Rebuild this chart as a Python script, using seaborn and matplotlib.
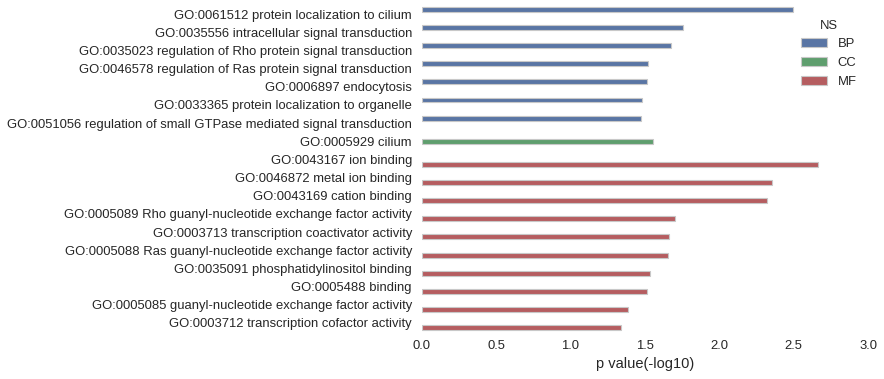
import pandas as pd
import seaborn as sns
import matplotlib.pyplot as plt

# GO terms, namespace and -log10 p values
terms = [
    'GO:0061512 protein localization to cilium',
    'GO:0035556 intracellular signal transduction',
    'GO:0035023 regulation of Rho protein signal transduction',
    'GO:0046578 regulation of Ras protein signal transduction',
    'GO:0006897 endocytosis',
    'GO:0033365 protein localization to organelle',
    'GO:0051056 regulation of small GTPase mediated signal transduction',
    'GO:0005929 cilium',
    'GO:0043167 ion binding',
    'GO:0046872 metal ion binding',
    'GO:0043169 cation binding',
    'GO:0005089 Rho guanyl-nucleotide exchange factor activity',
    'GO:0003713 transcription coactivator activity',
    'GO:0005088 Ras guanyl-nucleotide exchange factor activity',
    'GO:0035091 phosphatidylinositol binding',
    'GO:0005488 binding',
    'GO:0005085 guanyl-nucleotide exchange factor activity',
    'GO:0003712 transcription cofactor activity',
]
namespaces = ['BP'] * 7 + ['CC'] + ['MF'] * 10
pvals = [2.495, 1.755, 1.675, 1.52, 1.513, 1.48, 1.473,
         1.553,
         2.663, 2.354, 2.32, 1.70, 1.66, 1.654, 1.533, 1.513, 1.385, 1.338]

df = pd.DataFrame({'term': terms, 'NS': namespaces, 'p value(-log10)': pvals})

sns.set_theme(style="white")
plt.rcParams['font.family'] = ['Liberation Sans', 'DejaVu Sans']

fig, ax = plt.subplots(figsize=(8.84, 3.79), dpi=100)
sns.barplot(
    data=df, y='term', x='p value(-log10)', hue='NS',
    order=terms, hue_order=['BP', 'CC', 'MF'], dodge=True,
    palette=['#4C72B0', '#55A868', '#C44E52'],
    edgecolor='#c8c8c8', linewidth=0.8, ax=ax,
)
ax.set_xlim(0, 3)
ax.set_xticks([0, 0.5, 1.0, 1.5, 2.0, 2.5, 3.0])
ax.set_ylabel('')
ax.set_xlabel('p value(-log10)', fontsize=10.5, color='#262626', labelpad=3)
ax.tick_params(axis='both', labelsize=9.35, colors='#262626', length=0)
ax.tick_params(axis='y', pad=7)
ax.tick_params(axis='x', pad=6)
sns.despine(left=True, bottom=True)

leg = ax.legend(title='NS', loc='upper right', bbox_to_anchor=(1.0, 0.99),
                frameon=False, fontsize=9.35, title_fontsize=9.35)

fig.subplots_adjust(left=0.477, right=0.982, top=0.987, bottom=0.124)
fig.savefig('out.png', dpi=100)
